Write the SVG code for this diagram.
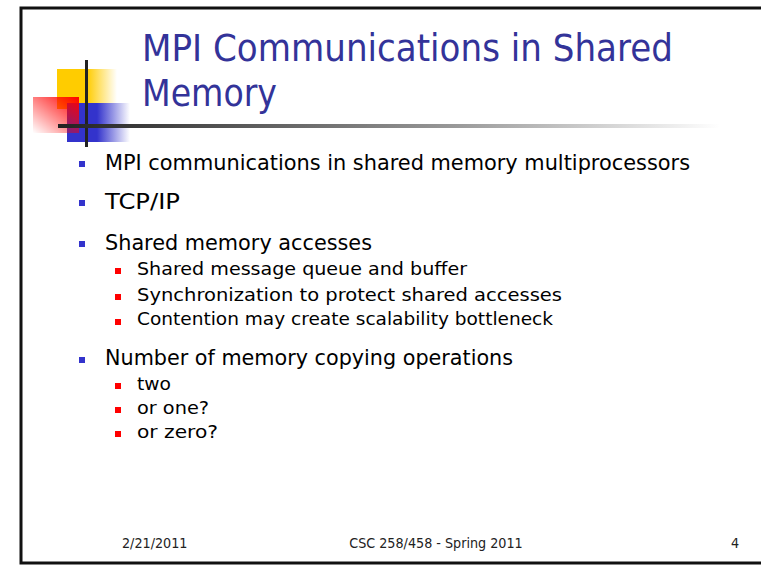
<svg xmlns="http://www.w3.org/2000/svg" width="761" height="566" viewBox="0 0 761 566">
<style>
.title{font-family:"Comic Sans MS","DejaVu Sans",sans-serif;font-size:37px;fill:#333399}
.b1{font-family:"Comic Sans MS","DejaVu Sans",sans-serif;font-size:21.5px;fill:#000}
.b2{font-family:"Comic Sans MS","DejaVu Sans",sans-serif;font-size:18.5px;fill:#000}
.foot{font-family:"Liberation Sans Narrow","DejaVu Sans Condensed","Liberation Sans",sans-serif;font-size:14.2px;fill:#222}
.bl{fill:#3333cc}
.rd{fill:#ff0000}
</style>
<defs>
<linearGradient id="gy" x1="0" y1="0" x2="1" y2="0"><stop offset="0" stop-color="#ffcc00"/><stop offset="1" stop-color="#ffcc00" stop-opacity="0"/></linearGradient>
<linearGradient id="gb" x1="0" y1="0" x2="1" y2="0"><stop offset="0" stop-color="#3333cc"/><stop offset="1" stop-color="#3333cc" stop-opacity="0"/></linearGradient>
<linearGradient id="gr" x1="1" y1="0" x2="0" y2="1"><stop offset="0" stop-color="#ff0000"/><stop offset="1" stop-color="#ff0000" stop-opacity="0"/></linearGradient>
<linearGradient id="gl" x1="0" y1="0" x2="1" y2="0"><stop offset="0" stop-color="#222"/><stop offset="0.6" stop-color="#999"/><stop offset="1" stop-color="#fff"/></linearGradient>
</defs>
<rect x="21" y="8" width="800" height="555" fill="#fff" stroke="#111" stroke-width="3"/>
<g id="logo">
<rect x="57" y="69" width="30" height="40" fill="#ffcc00"/>
<rect x="87" y="69" width="30" height="34" fill="url(#gy)"/>
<rect x="67" y="103" width="30" height="39" fill="#3333cc"/>
<rect x="97" y="103" width="33" height="39" fill="url(#gb)"/>
<rect x="33" y="97" width="46" height="36" fill="url(#gr)"/>
<rect x="85" y="60" width="3" height="87" fill="#222"/>
<rect x="58" y="124" width="662" height="4" fill="url(#gl)"/>
</g>
<g id="title">
<text class="title" x="142" y="61" textLength="531" lengthAdjust="spacingAndGlyphs">MPI Communications in Shared</text>
<text class="title" x="142" y="106" textLength="135" lengthAdjust="spacingAndGlyphs">Memory</text>
</g>
<g id="body">
<rect class="bl" x="79" y="161" width="6" height="6"/>
<text class="b1" x="105" y="170" textLength="585" lengthAdjust="spacingAndGlyphs">MPI communications in shared memory multiprocessors</text>
<rect class="bl" x="79" y="200" width="6" height="6"/>
<text class="b1" x="105" y="209" textLength="75" lengthAdjust="spacingAndGlyphs">TCP/IP</text>
<rect class="bl" x="79" y="241" width="6" height="6"/>
<text class="b1" x="105" y="250" textLength="267" lengthAdjust="spacingAndGlyphs">Shared memory accesses</text>
<rect class="rd" x="115" y="268" width="6" height="6"/>
<text class="b2" x="137" y="275" textLength="330" lengthAdjust="spacingAndGlyphs">Shared message queue and buffer</text>
<rect class="rd" x="115" y="294" width="6" height="6"/>
<text class="b2" x="137" y="301" textLength="425" lengthAdjust="spacingAndGlyphs">Synchronization to protect shared accesses</text>
<rect class="rd" x="115" y="319" width="6" height="6"/>
<text class="b2" x="137" y="325" textLength="416" lengthAdjust="spacingAndGlyphs">Contention may create scalability bottleneck</text>
<rect class="bl" x="79" y="357" width="6" height="6"/>
<text class="b1" x="105" y="365" textLength="408" lengthAdjust="spacingAndGlyphs">Number of memory copying operations</text>
<rect class="rd" x="115" y="383" width="6" height="6"/>
<text class="b2" x="137" y="390" textLength="34" lengthAdjust="spacingAndGlyphs">two</text>
<rect class="rd" x="115" y="407" width="6" height="6"/>
<text class="b2" x="137" y="414" textLength="72" lengthAdjust="spacingAndGlyphs">or one?</text>
<rect class="rd" x="115" y="431" width="6" height="6"/>
<text class="b2" x="137" y="438" textLength="81" lengthAdjust="spacingAndGlyphs">or zero?</text>
</g>
<g id="footer">
<text class="foot" x="122" y="548">2/21/2011</text>
<text class="foot" x="436" y="548" text-anchor="middle">CSC 258/458 - Spring 2011</text>
<text class="foot" x="739" y="548" text-anchor="end">4</text>
</g>
</svg>
